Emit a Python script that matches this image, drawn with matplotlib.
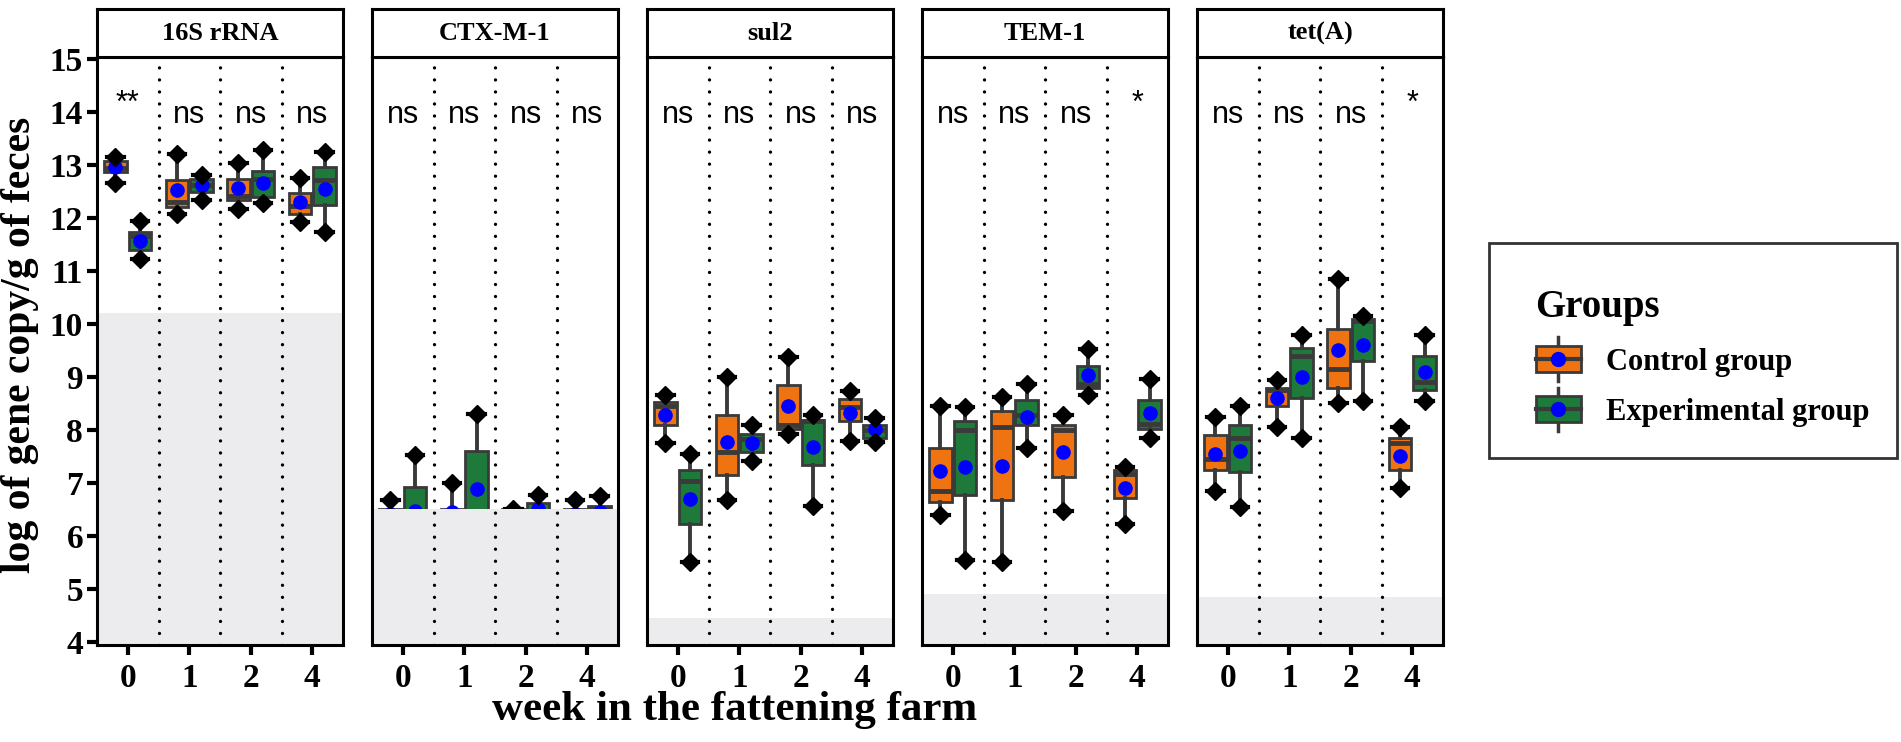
import matplotlib
matplotlib.use("Agg")
import matplotlib.pyplot as plt
import numpy as np
from matplotlib.patches import Rectangle, Patch
from matplotlib.lines import Line2D
from matplotlib.legend_handler import HandlerBase

genes = ["16S rRNA", "CTX-M-1", "sul2", "TEM-1", "tet(A)"]
weeks = ["0", "1", "2", "4"]
groups = ["Control group", "Experimental group"]
lod = [10.2, 6.5, 4.45, 4.9, 4.85]
signif = [["**", "ns", "ns", "ns"],
          ["ns", "ns", "ns", "ns"],
          ["ns", "ns", "ns", "ns"],
          ["ns", "ns", "ns", "*"],
          ["ns", "ns", "ns", "*"]]

# control group, one row per gene, one value per week
ctrl_lo = [[12.67, 12.07, 12.17, 11.93],
           [6.3, 6.3, 6.3, 6.3],
           [7.75, 6.67, 7.92, 7.79],
           [6.4, 5.5, 6.47, 6.23],
           [6.85, 8.05, 8.5, 6.9]]
ctrl_q1 = [[12.86, 12.2, 12.34, 12.07],
           [6.4, 6.4, 6.4, 6.4],
           [8.09, 7.14, 8.02, 8.16],
           [6.64, 6.67, 7.11, 6.71],
           [7.25, 8.45, 8.8, 7.25]]
ctrl_med = [[12.95, 12.3, 12.42, 12.22],
            [6.45, 6.45, 6.45, 6.45],
            [8.46, 7.58, 8.09, 8.43],
            [6.84, 8.05, 7.99, 7.17],
            [7.45, 8.75, 9.15, 7.75]]
ctrl_q3 = [[13.08, 12.71, 12.74, 12.47],
           [6.5, 6.5, 6.5, 6.5],
           [8.53, 8.29, 8.85, 8.59],
           [7.65, 8.36, 8.09, 7.25],
           [7.9, 8.8, 9.9, 7.85]]
ctrl_hi = [[13.15, 13.21, 13.04, 12.75],
           [6.67, 7.0, 6.5, 6.68],
           [8.66, 9.0, 9.37, 8.73],
           [8.46, 8.63, 8.29, 7.3],
           [8.25, 8.95, 10.85, 8.05]]
ctrl_mean = [[12.97, 12.52, 12.57, 12.3],
             [6.42, 6.45, 6.4, 6.42],
             [8.28, 7.77, 8.46, 8.32],
             [7.23, 7.31, 7.58, 6.91],
             [7.55, 8.6, 9.5, 7.5]]

# experimental group
exp_lo = [[11.22, 12.34, 12.28, 11.73],
          [6.0, 6.2, 6.3, 6.3],
          [5.5, 7.41, 6.57, 7.78],
          [5.55, 7.65, 8.66, 7.85],
          [6.55, 7.85, 8.55, 8.55]]
exp_q1 = [[11.39, 12.5, 12.4, 12.24],
          [6.2, 6.3, 6.4, 6.4],
          [6.23, 7.58, 7.34, 7.85],
          [6.77, 8.09, 8.8, 8.02],
          [7.2, 8.6, 9.3, 8.75]]
exp_med = [[11.66, 12.62, 12.74, 12.71],
           [6.4, 6.45, 6.45, 6.5],
           [7.04, 7.82, 8.16, 7.99],
           [7.99, 8.29, 8.86, 8.12],
           [7.85, 9.4, 10.05, 8.9]]
exp_q3 = [[11.74, 12.74, 12.89, 12.96],
          [6.93, 7.6, 6.63, 6.56],
          [7.25, 7.92, 8.19, 8.09],
          [8.16, 8.56, 9.2, 8.56],
          [8.1, 9.55, 10.1, 9.4]]
exp_hi = [[11.95, 12.81, 13.28, 13.25],
          [7.53, 8.3, 6.78, 6.75],
          [7.55, 8.09, 8.29, 8.22],
          [8.43, 8.86, 9.52, 8.96],
          [8.45, 9.8, 10.15, 9.8]]
exp_mean = [[11.56, 12.63, 12.67, 12.55],
            [6.47, 6.88, 6.51, 6.45],
            [6.7, 7.75, 7.68, 8.02],
            [7.3, 8.25, 9.03, 8.32],
            [7.6, 9.0, 9.6, 9.1]]

ORANGE = "#F07312"
GREEN = "#1E7A3B"
EDGE = "#3a3a3a"
SHADE = "#ECECEE"
SERIF = "Liberation Serif"
SANS = "Liberation Sans"


class BoxHandler(HandlerBase):
    def create_artists(self, legend, orig_handle, xdescent, ydescent,
                       width, height, fontsize, trans):
        x0, y0 = -xdescent, -ydescent
        cx, cy = x0 + width / 2, y0 + height / 2
        whisk = Line2D([cx, cx], [y0 - 0.35 * height, y0 + 1.35 * height],
                       color=EDGE, lw=2.5)
        rect = Rectangle((x0, y0), width, height, facecolor=orig_handle.get_facecolor(),
                         edgecolor=EDGE, lw=2)
        med = Line2D([x0, x0 + width], [cy, cy], color=EDGE, lw=3)
        dot = Line2D([cx], [cy], marker="o", color="blue", markersize=10, ls="none")
        arts = [whisk, rect, med, dot]
        for a in arts:
            a.set_transform(trans)
        return arts


def draw_group(ax, gi, lo, q1, med, q3, hi, mean, color, offset):
    pos = np.arange(1, 5) + offset
    stats = []
    for w in range(4):
        stats.append(dict(whislo=lo[gi][w], q1=q1[gi][w], med=med[gi][w],
                          q3=q3[gi][w], whishi=hi[gi][w], mean=mean[gi][w], fliers=[]))
    ax.bxp(stats, positions=pos, widths=0.37, patch_artist=True, showmeans=True,
           showcaps=True, capwidths=0.27, manage_ticks=False,
           boxprops=dict(facecolor=color, edgecolor=EDGE, lw=2),
           medianprops=dict(color=EDGE, lw=3.5),
           whiskerprops=dict(color=EDGE, lw=2.8),
           capprops=dict(color="black", lw=3),
           meanprops=dict(marker="o", markerfacecolor="blue", markeredgecolor="blue",
                          markersize=9.5))
    ax.plot(pos, hi[gi], ls="none", marker="D", color="black", markersize=9, zorder=3)
    ax.plot(pos, lo[gi], ls="none", marker="D", color="black", markersize=9, zorder=3)


fig = plt.figure(figsize=(19.01, 7.42), dpi=100)
W, H = 1901, 742
ymin, ymax = 3.94, 15.04

for gi, gene in enumerate(genes):
    left = (97 + gi * 275) / W
    width = 246 / W
    bottom = 1 - 645 / H
    top = 1 - 57 / H
    ax = fig.add_axes([left, bottom, width, top - bottom])
    draw_group(ax, gi, ctrl_lo, ctrl_q1, ctrl_med, ctrl_q3, ctrl_hi, ctrl_mean, ORANGE, -0.2)
    draw_group(ax, gi, exp_lo, exp_q1, exp_med, exp_q3, exp_hi, exp_mean, GREEN, 0.2)
    ax.axhspan(ymin, lod[gi], color=SHADE, zorder=5, lw=0)
    for xv in [1.5, 2.5, 3.5]:
        ax.axvline(xv, color="black", ls=(0, (0.01, 3.6)), lw=2.4,
                   dash_capstyle="round", zorder=6)
    for w in range(4):
        base = 14.0 if "*" in signif[gi][w] else 13.8
        ax.text(w + 1, base, signif[gi][w], ha="center", va="baseline",
                fontsize=22, family=SANS, zorder=7)
    ax.set_xlim(0.5, 4.5)
    ax.set_ylim(ymin, ymax)
    ax.set_xticks(np.arange(1, 5))
    ax.set_xticklabels(weeks, fontsize=24, family=SERIF, fontweight="bold")
    ax.tick_params(axis="x", length=7, width=3, color="black", pad=6)
    if gi == 0:
        ax.set_yticks(np.arange(4, 16))
        ax.set_yticklabels([str(v) for v in range(4, 16)], fontsize=24,
                           family=SERIF, fontweight="bold")
        ax.tick_params(axis="y", length=7, width=3, color="black", pad=3)
    else:
        ax.set_yticks([])
    for sp in ax.spines.values():
        sp.set_linewidth(2.2)
        sp.set_color("black")
        sp.set_zorder(8)

    sax = fig.add_axes([left, top, width, (57 - 9) / H])
    sax.set_xticks([])
    sax.set_yticks([])
    for sp in sax.spines.values():
        sp.set_linewidth(2.2)
    sax.text(0.5, 0.5, gene, ha="center", va="center", fontsize=19,
             family=SERIF, fontweight="bold", transform=sax.transAxes)

fig.text(20 / W, 1 - 345 / H, "log of gene copy/g of feces", rotation=90,
         ha="center", va="center", fontsize=30, family=SERIF, fontweight="bold")
fig.text(735 / W, 1 - 710 / H, "week in the fattening farm", ha="center",
         va="center", fontsize=31, family=SERIF, fontweight="bold")

# legend frame and entries
fig.patches.append(Rectangle((1489 / W, 1 - 458 / H), 408 / W, 215 / H,
                             transform=fig.transFigure, facecolor="white",
                             edgecolor="#333333", lw=2))
handles = [Patch(facecolor=ORANGE), Patch(facecolor=GREEN)]
leg = fig.legend(handles, groups, handler_map={Patch: BoxHandler()},
                 loc="upper left", bbox_to_anchor=(1508 / W, 1 - 262 / H),
                 frameon=False, title="Groups", alignment="left",
                 prop=dict(family=SERIF, weight="bold", size=22),
                 title_fontproperties=dict(family=SERIF, weight="bold", size=28),
                 handlelength=1.5, handleheight=0.9, handletextpad=0.8,
                 labelspacing=0.65)

fig.savefig("out.png", dpi=100)
